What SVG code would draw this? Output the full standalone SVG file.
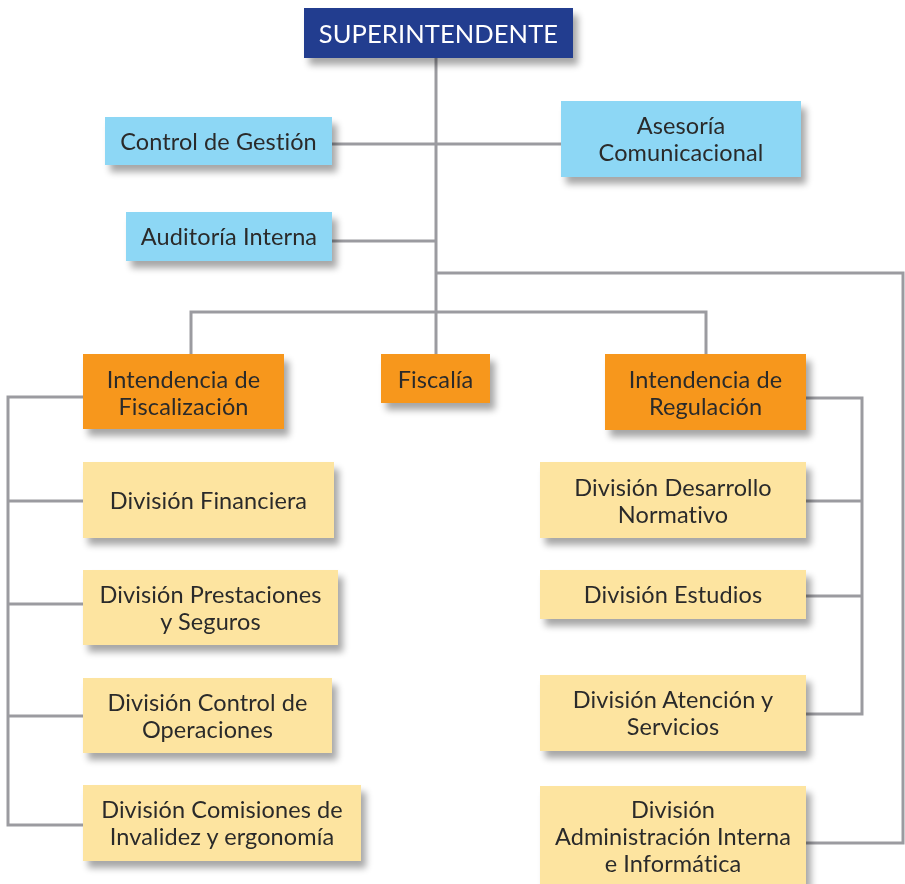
<svg xmlns="http://www.w3.org/2000/svg" width="905" height="884" viewBox="0 0 905 884">
<defs>
<filter id="sh" x="-10%" y="-20%" width="130%" height="160%">
<feGaussianBlur in="SourceAlpha" stdDeviation="3.5"/>
<feOffset dx="5" dy="7" result="b"/>
<feComponentTransfer><feFuncA type="linear" slope="0.35"/></feComponentTransfer>
<feMerge><feMergeNode/><feMergeNode in="SourceGraphic"/></feMerge>
</filter>
</defs>
<style>
.t{font-family:Lato,"Open Sans","DejaVu Sans",sans-serif;font-size:23.5px;fill:#2b2b2b;text-anchor:middle;letter-spacing:0.1px;font-variant-ligatures:no-common-ligatures no-discretionary-ligatures no-historical-ligatures no-contextual;font-feature-settings:"liga" 0,"clig" 0,"dlig" 0,"calt" 0}
.w{fill:#ffffff;font-size:25.5px}
.blue{fill:#243d8f}
.sky{fill:#8dd7f5}
.org{fill:#f7971f}
.yel{fill:#fde4a0}
.c{fill:none;stroke:#9b9ba0;stroke-width:3}
</style>
<rect width="905" height="884" fill="#ffffff"/>
<g id="connectors" class="c">
<path d="M436,58 V354"/>
<path d="M332,144 H561"/>
<path d="M332,241 H436"/>
<path d="M436,273 H903 V843 H806"/>
<path d="M191,354 V312 H706 V354"/>
<path d="M83,397 H8 V825 H83"/>
<path d="M8,501 H83 M8,604 H83 M8,716 H83"/>
<path d="M806,398 H862 V714 H806"/>
<path d="M806,501 H862 M806,596 H862"/>
</g>
<g id="superintendente" filter="url(#sh)"><rect class="blue" x="304" y="8" width="269" height="50"/><text class="t w" x="438.5" y="43">SUPERINTENDENTE</text></g>
<g id="control-gestion" filter="url(#sh)"><rect class="sky" x="105" y="117" width="227" height="48"/><text class="t" x="218.5" y="150">Control de Gestión</text></g>
<g id="asesoria" filter="url(#sh)"><rect class="sky" x="561" y="101" width="240" height="76"/><text class="t" x="681" y="134">Asesoría</text><text class="t" x="681" y="161">Comunicacional</text></g>
<g id="auditoria" filter="url(#sh)"><rect class="sky" x="126" y="212" width="206" height="49"/><text class="t" x="229" y="245">Auditoría Interna</text></g>
<g id="int-fiscalizacion" filter="url(#sh)"><rect class="org" x="83" y="354" width="201" height="75"/><text class="t" x="183.5" y="388">Intendencia de</text><text class="t" x="183.5" y="415">Fiscalización</text></g>
<g id="fiscalia" filter="url(#sh)"><rect class="org" x="381" y="354" width="109" height="49"/><text class="t" x="435.5" y="388">Fiscalía</text></g>
<g id="int-regulacion" filter="url(#sh)"><rect class="org" x="605" y="354" width="201" height="76"/><text class="t" x="705.5" y="388">Intendencia de</text><text class="t" x="705.5" y="415">Regulación</text></g>
<g id="div-financiera" filter="url(#sh)"><rect class="yel" x="83" y="462" width="251" height="76"/><text class="t" x="208.5" y="509">División Financiera</text></g>
<g id="div-prestaciones" filter="url(#sh)"><rect class="yel" x="83" y="570" width="255" height="75"/><text class="t" x="210.5" y="603">División Prestaciones</text><text class="t" x="210.5" y="630">y Seguros</text></g>
<g id="div-control-operaciones" filter="url(#sh)"><rect class="yel" x="83" y="678" width="249" height="75"/><text class="t" x="207.5" y="711">División Control de</text><text class="t" x="207.5" y="738">Operaciones</text></g>
<g id="div-comisiones" filter="url(#sh)"><rect class="yel" x="83" y="785" width="278" height="76"/><text class="t" x="222" y="818">División Comisiones de</text><text class="t" x="222" y="845">Invalidez y ergonomía</text></g>
<g id="div-desarrollo" filter="url(#sh)"><rect class="yel" x="540" y="462" width="266" height="76"/><text class="t" x="673" y="496">División Desarrollo</text><text class="t" x="673" y="523">Normativo</text></g>
<g id="div-estudios" filter="url(#sh)"><rect class="yel" x="540" y="570" width="266" height="49"/><text class="t" x="673" y="603">División Estudios</text></g>
<g id="div-atencion" filter="url(#sh)"><rect class="yel" x="540" y="675" width="266" height="76"/><text class="t" x="673" y="708">División Atención y</text><text class="t" x="673" y="735">Servicios</text></g>
<g id="div-administracion" filter="url(#sh)"><rect class="yel" x="540" y="786" width="266" height="98"/><text class="t" x="673" y="818">División</text><text class="t" x="673" y="845">Administración Interna</text><text class="t" x="673" y="872">e Informática</text></g>
</svg>
